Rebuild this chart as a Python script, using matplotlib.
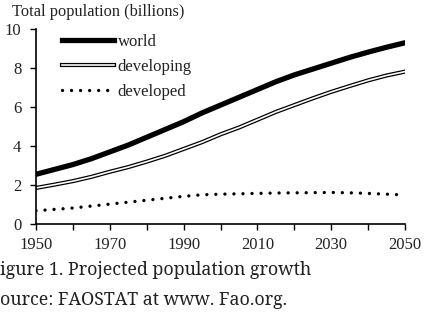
import matplotlib.pyplot as plt
from matplotlib.lines import Line2D

plt.rcParams['font.family'] = ['Liberation Serif', 'DejaVu Serif']

# population, billions
years = [1950, 1955, 1960, 1965, 1970, 1975, 1980, 1985, 1990, 1995, 2000,
         2005, 2010, 2015, 2020, 2025, 2030, 2035, 2040, 2045, 2050]
world = [2.55, 2.8, 3.05, 3.35, 3.7, 4.05, 4.45, 4.85, 5.25, 5.7, 6.1,
         6.5, 6.9, 7.3, 7.65, 7.95, 8.25, 8.55, 8.82, 9.07, 9.3]
developing = [1.85, 2.02, 2.2, 2.42, 2.68, 2.92, 3.2, 3.5, 3.85, 4.2, 4.6,
              4.95, 5.35, 5.75, 6.1, 6.45, 6.78, 7.08, 7.37, 7.62, 7.82]
developed = [0.68, 0.75, 0.82, 0.92, 1.02, 1.12, 1.22, 1.32, 1.42, 1.5, 1.53,
             1.55, 1.57, 1.59, 1.6, 1.61, 1.62, 1.6, 1.57, 1.53, 1.49]

xticks_major = [1950, 1970, 1990, 2010, 2030, 2050]
xticks_minor = [1960, 1980, 2000, 2020, 2040]
yticks = [0, 2, 4, 6, 8, 10]

fig = plt.figure(figsize=(4.27, 3.2), dpi=100)
ax = fig.add_axes([0.0843, 0.30, 0.8642, 0.609])

dots = (0, (0.01, 2.7))

# world: thick black
ax.plot(years, world, color='black', lw=3.8, solid_capstyle='round')
# developing: double line (black outer, white inner)
ax.plot(years, developing, color='black', lw=3.0, solid_capstyle='round')
ax.plot(years, developing, color='white', lw=1.2, solid_capstyle='round')
# developed: round dots
ax.plot(years, developed, color='black', lw=2.4, linestyle=dots,
        dash_capstyle='round')

ax.set_xlim(1950, 2050)
ax.set_ylim(0, 10)
ax.set_xticks(xticks_major)
ax.set_xticks(xticks_minor, minor=True)
ax.set_yticks(yticks)
ax.tick_params(axis='both', which='both', direction='out', length=4.5,
               width=1, labelsize=12, colors='black', labelcolor='#222222')
ax.tick_params(axis='x', which='major', pad=5)
ax.tick_params(axis='y', which='major', pad=6)
for s in ['top', 'right']:
    ax.spines[s].set_visible(False)
for s in ['left', 'bottom']:
    ax.spines[s].set_linewidth(1.2)

h_world = Line2D([], [], color='black', lw=3.8)
h_dev = (Line2D([], [], color='black', lw=3.0),
         Line2D([], [], color='white', lw=1.2))
h_dvd = Line2D([], [], color='black', lw=2.4, linestyle=dots,
               dash_capstyle='round')
leg = ax.legend([h_world, h_dev, h_dvd], ['world', 'developing', 'developed'],
                loc='upper left', bbox_to_anchor=(0.145, 0.895),
                bbox_transform=fig.transFigure, frameon=False, fontsize=12,
                handlelength=3.1, handletextpad=0.25, labelspacing=0.55,
                borderpad=0, borderaxespad=0)
for t in leg.get_texts():
    t.set_color('#222222')

fig.text(0.028, 0.962, 'Total population (billions)', fontsize=11.8,
         va='center', ha='left', color='#222222')
fig.text(0.0, 0.155, 'igure 1. Projected population growth', fontsize=12.8,
         va='center', ha='left', color='#222222',
         family=['Noto Serif', 'DejaVu Serif'])
fig.text(0.0, 0.062, 'ource: FAOSTAT at www. Fao.org.', fontsize=12.8,
         va='center', ha='left', color='#222222',
         family=['Noto Serif', 'DejaVu Serif'])

fig.savefig('out.png', dpi=100)
